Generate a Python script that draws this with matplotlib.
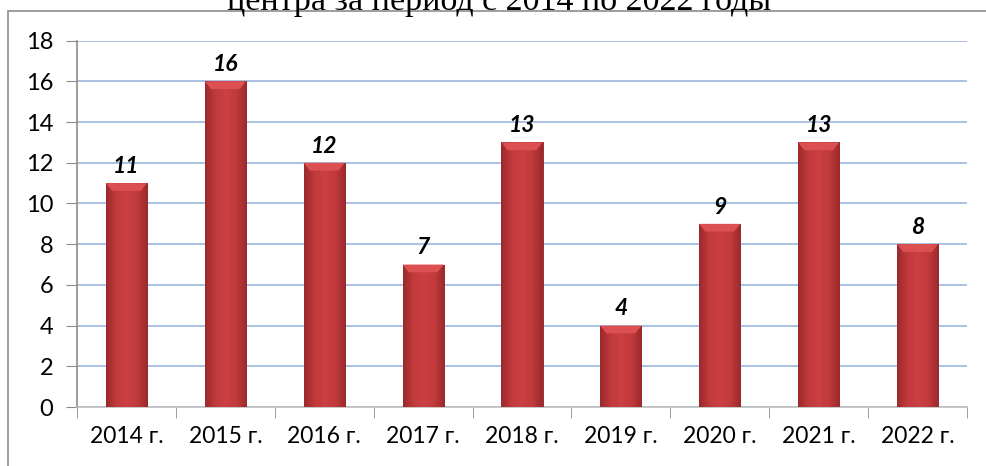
import numpy as np
import matplotlib
matplotlib.use("Agg")
import matplotlib.pyplot as plt
from matplotlib.colors import LinearSegmentedColormap
from matplotlib.patches import Rectangle, Polygon

years = ["2014 г.", "2015 г.", "2016 г.", "2017 г.", "2018 г.", "2019 г.", "2020 г.", "2021 г.", "2022 г."]
counts = [11, 16, 12, 7, 13, 4, 9, 13, 8]
yticks = [0, 2, 4, 6, 8, 10, 12, 14, 16, 18]
title_tail = "центра за период с 2014 по 2022 годы"

fig = plt.figure(figsize=(9.86, 4.66), dpi=100)
ax = fig.add_axes([0.0781, 0.1266, 0.9026, 0.7861])

# рамка вокруг диаграммы
fig.add_artist(Rectangle((0.008, -0.01), 1.1, 0.987, transform=fig.transFigure,
                         fill=False, edgecolor="#8c8c8c", linewidth=1.2))

x = np.arange(len(years))
bars = ax.bar(x, counts, width=0.415, color="#c83a3c", edgecolor="#8e2224",
              linewidth=0.6, zorder=3)

# градиент по ширине столбца
cmap = LinearSegmentedColormap.from_list("red3d", ["#9a2a2c", "#c23a3c", "#cc4042", "#c23a3c", "#9a2a2c"])
grad = np.linspace(0, 1, 64).reshape(1, -1)
for b in bars:
    x0, w, h = b.get_x(), b.get_width(), b.get_height()
    im = ax.imshow(grad, cmap=cmap, aspect="auto", extent=(x0, x0 + w, 0, h), zorder=3.5)
    im.set_clip_path(b)
    # светлая верхняя фаска
    bevel = Polygon([(x0, h), (x0 + w, h), (x0 + w * 0.85, h - 0.38), (x0 + w * 0.15, h - 0.38)],
                    closed=True, facecolor="#dc5052", edgecolor="none", zorder=4)
    ax.add_patch(bevel)
    ax.text(x0 + w / 2, h + 0.3, str(int(h)), ha="center", va="bottom",
            fontsize=16.5, fontweight="bold", fontstyle="italic", family="Lato", zorder=5)

ax.set_xlim(-0.5, len(years) - 0.5)
ax.set_ylim(0, 18)
ax.set_yticks(yticks)
ax.set_xticks(x)
ax.set_xticklabels(years)
ax.set_xticks(np.arange(-0.5, len(years)), minor=True)
ax.tick_params(axis="x", which="major", length=0, pad=14, labelsize=16.5)
ax.tick_params(axis="x", which="minor", length=8, color="#8c8c8c")
ax.tick_params(axis="y", length=8, color="#8c8c8c", labelsize=17, pad=9)
for lab in ax.get_xticklabels() + ax.get_yticklabels():
    lab.set_family("Lato")

ax.grid(axis="y", color="#a9c1e4", linewidth=1.4, zorder=0)
ax.set_axisbelow(True)
for s in ["top", "right"]:
    ax.spines[s].set_visible(False)
ax.spines["left"].set_color("#8c8c8c")
ax.spines["bottom"].set_color("#bfbfbf")
ax.spines["left"].set_linewidth(1.2)
ax.spines["bottom"].set_linewidth(1.2)

fig.text(0.506, 0.979, title_tail, ha="center", va="baseline", fontsize=24.5,
         family="Liberation Serif")

fig.savefig("out.png", dpi=100)
